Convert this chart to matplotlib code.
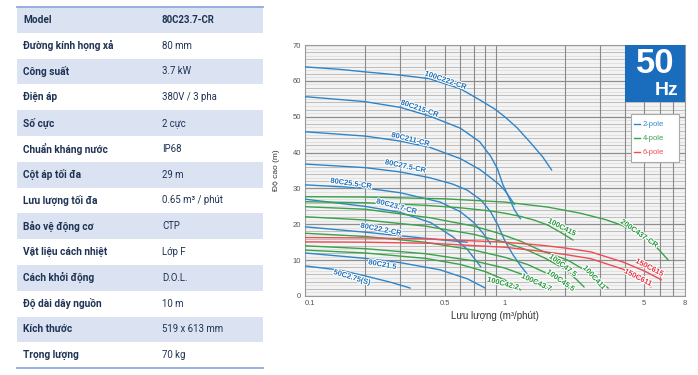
import matplotlib
matplotlib.use('Agg')
import matplotlib.pyplot as plt
import matplotlib.patheffects as pe
from matplotlib.patches import Rectangle
from matplotlib.lines import Line2D
import numpy as np

# ---------------- data ----------------
spec_labels = ["Model", "Đường kính họng xả", "Công suất", "Điện áp", "Số cực",
               "Chuẩn kháng nước", "Cột áp tối đa", "Lưu lượng tối đa", "Bảo vệ động cơ",
               "Vật liệu cách nhiệt", "Cách khởi động", "Độ dài dây nguồn", "Kích thước",
               "Trọng lượng"]
spec_values = ["80C23.7-CR", "80 mm", "3.7 kW", "380V / 3 pha", "2 cực", "IP68", "29 m",
               "0.65 m³ / phút", "CTP", "Lớp F", "D.O.L.", "10 m", "519 x 613 mm", "70 kg"]

# 2-pole (blue) curves: flow (m3/min), head (m)
q_100C222 = [0.1, 0.15, 0.2, 0.3, 0.42, 0.6, 0.76, 0.9, 1.0, 1.15, 1.35, 1.55, 1.72]
h_100C222 = [63.9, 63.2, 62.5, 61.6, 60.6, 57.8, 54.5, 52.0, 50.0, 47.0, 42.7, 38.8, 35.1]
q_80C215 = [0.1, 0.2, 0.3, 0.42, 0.6, 0.75, 0.85, 0.92, 0.98, 1.05, 1.12, 1.2]
h_80C215 = [55.6, 54.2, 52.6, 50.2, 46.8, 43.0, 39.0, 35.5, 31.0, 27.5, 24.0, 21.5]
q_80C211 = [0.1, 0.2, 0.3, 0.42, 0.6, 0.75, 0.85, 0.93, 1.0, 1.06, 1.12]
h_80C211 = [45.8, 44.6, 43.2, 41.5, 38.3, 35.3, 33.0, 31.3, 29.5, 27.5, 25.5]
q_80C275 = [0.1, 0.2, 0.3, 0.42, 0.55, 0.65, 0.76, 0.85, 0.93, 1.0, 1.1, 1.2, 1.33]
h_80C275 = [36.8, 35.8, 34.6, 33.0, 31.2, 29.5, 26.8, 23.5, 19.5, 15.5, 11.5, 8.5, 5.3]
q_80C255 = [0.1, 0.2, 0.3, 0.475, 0.6, 0.7, 0.78, 0.85]
h_80C255 = [31.0, 30.1, 28.8, 26.2, 23.5, 20.5, 17.5, 14.5]
q_80C237 = [0.1, 0.2, 0.3, 0.425, 0.55, 0.65, 0.76]
h_80C237 = [27.0, 25.0, 23.3, 20.5, 16.5, 13.0, 8.1]
q_80C222 = [0.1, 0.2, 0.3, 0.45, 0.65]
h_80C222 = [19.3, 17.8, 16.8, 15.8, 15.0]
q_80C215s = [0.1, 0.2, 0.3, 0.475, 0.65, 0.8]
h_80C215s = [12.0, 10.5, 9.3, 7.3, 4.8, 2.2]
q_50C275 = [0.1, 0.15, 0.2, 0.27, 0.337]
h_50C275 = [8.4, 7.2, 5.6, 3.8, 2.2]

# 4-pole (green) curves
q_200C437 = [0.1, 0.2, 0.5, 1.0, 1.64, 2.39, 3.2, 3.83, 4.5, 5.23, 5.9, 6.6]
h_200C437 = [27.7, 27.6, 27.1, 26.2, 24.8, 23.1, 21.3, 19.8, 17.9, 15.6, 13.0, 10.0]
q_100C415 = [0.1, 0.2, 0.4, 0.6, 0.85, 1.0, 1.2, 1.4, 1.64, 1.9, 2.2]
h_100C415 = [26.3, 26.0, 25.3, 24.6, 23.7, 23.1, 22.2, 21.2, 19.8, 17.8, 15.6]
q_100C411 = [0.1, 0.2, 0.425, 0.7, 0.92, 1.2, 1.5, 2.07, 2.5, 2.9, 3.3]
h_100C411 = [24.9, 24.2, 21.8, 19.5, 17.6, 15.3, 12.8, 10.0, 7.3, 4.8, 2.2]
q_100C475 = [0.1, 0.2, 0.4, 0.7, 1.0, 1.3, 1.6, 2.0, 2.3, 2.5]
h_100C475 = [22.1, 21.2, 19.5, 17.2, 15.0, 12.8, 10.5, 7.5, 4.5, 2.5]
q_100C455 = [0.1, 0.2, 0.4, 0.7, 1.0, 1.3, 1.6, 1.9, 2.2]
h_100C455 = [17.5, 16.6, 15.0, 12.8, 10.8, 8.8, 6.5, 4.3, 2.0]
q_100C437 = [0.1, 0.2, 0.4, 0.7, 1.0, 1.3, 1.7]
h_100C437 = [14.0, 13.2, 11.8, 9.8, 7.8, 5.5, 1.7]
q_100C422 = [0.1, 0.2, 0.4, 0.6, 0.8, 1.0, 1.2]
h_100C422 = [12.8, 12.0, 10.5, 8.8, 6.8, 4.5, 1.7]

# 6-pole (red) curves
q_150C615 = [0.1, 0.2, 0.425, 1.0, 1.5, 2.0, 2.7, 3.9, 5.0, 6.1]
h_150C615 = [16.3, 16.2, 15.9, 15.0, 14.2, 13.4, 12.3, 9.5, 7.0, 4.5]
q_150C611 = [0.1, 0.2, 0.425, 1.0, 1.5, 2.0, 2.7, 3.9, 4.7, 5.4]
h_150C611 = [15.1, 15.0, 14.7, 13.6, 12.5, 11.6, 10.4, 7.5, 5.2, 2.5]

x_ticks = [0.1, 0.5, 1, 5, 8]
x_tick_labels = ["0.1", "0.5", "1", "5", "8"]
y_ticks = [0, 10, 20, 30, 40, 50, 60, 70]
legend_labels = ["2-pole", "4-pole", "6-pole"]

BLUE = '#2f85c8'
GREEN = '#3aa24a'
RED = '#f04a55'
BLUE_T = '#1f6fb8'
GREEN_T = '#22953a'
RED_T = '#e8303c'

curves = [
    (q_100C222, h_100C222, BLUE), (q_80C215, h_80C215, BLUE), (q_80C211, h_80C211, BLUE),
    (q_80C275, h_80C275, BLUE), (q_80C255, h_80C255, BLUE), (q_80C237, h_80C237, BLUE),
    (q_80C222, h_80C222, BLUE), (q_80C215s, h_80C215s, BLUE), (q_50C275, h_50C275, BLUE),
    (q_200C437, h_200C437, GREEN), (q_100C415, h_100C415, GREEN), (q_100C411, h_100C411, GREEN),
    (q_100C475, h_100C475, GREEN), (q_100C455, h_100C455, GREEN), (q_100C437, h_100C437, GREEN),
    (q_100C422, h_100C422, GREEN),
    (q_150C615, h_150C615, RED), (q_150C611, h_150C611, RED),
]

# curve labels: text, (x, y) in data, rotation, color
curve_labels = [
    ("100C222-CR", 0.505, 60.0, -19, BLUE_T),
    ("80C215-CR", 0.374, 52.1, -19, BLUE_T),
    ("80C211-CR", 0.337, 43.5, -14, BLUE_T),
    ("80C27.5-CR", 0.318, 36.0, -12, BLUE_T),
    ("80C25.5-CR", 0.17, 31.2, -8, BLUE_T),
    ("80C23.7-CR", 0.287, 24.8, -15, BLUE_T),
    ("80C22.2-CR", 0.24, 18.4, -11, BLUE_T),
    ("80C21.5", 0.244, 8.6, -10, BLUE_T),
    ("50C2.75(S)", 0.172, 5.0, -17, BLUE_T),
    ("100C415", 1.93, 19.0, -27, GREEN_T),
    ("200C437-CR", 4.7, 17.3, -35, GREEN_T),
    ("100C47.5", 1.95, 8.4, -37, GREEN_T),
    ("100C411", 2.8, 5.0, -47, GREEN_T),
    ("100C45.5", 1.9, 4.2, -35, GREEN_T),
    ("100C43.7", 1.44, 3.6, -25, GREEN_T),
    ("100C42.2", 0.98, 3.3, -15, GREEN_T),
    ("150C615", 5.3, 7.8, -27, RED_T),
    ("150C611", 4.65, 5.0, -27, RED_T),
]

# ---------------- figure ----------------
W, H = 698, 375
fig = plt.figure(figsize=(W / 100, H / 100), dpi=100)

def fx(px):
    return px / W

def fy(py):
    return 1 - py / H

TXT = '#1f3354'
tfont = ['Roboto', 'DejaVu Sans']
tl, tr = 17, 263
row_top, row_h = 7, 25.8
for i, (lab, val) in enumerate(zip(spec_labels, spec_values)):
    y0 = row_top + i * row_h
    if i % 2 == 0:
        fig.patches.append(Rectangle((fx(tl), fy(y0 + row_h)), fx(tr) - fx(tl), row_h / H,
                                     transform=fig.transFigure, facecolor='#dbe3f2',
                                     edgecolor='none', zorder=0))
    yc = y0 + row_h / 2
    fig.text(fx(23), fy(yc), lab, family=tfont, weight='bold', fontsize=7.3,
             color=TXT, va='center', ha='left')
    fig.text(fx(162), fy(yc), val, family=tfont, weight='bold' if i == 0 else 'normal',
             fontsize=6.9, color=TXT, va='center', ha='left')
for yy in (row_top, row_top + row_h * len(spec_labels)):
    fig.add_artist(Line2D([fx(tl), fx(tr)], [fy(yy), fy(yy)], transform=fig.transFigure,
                          color='#8faadc', lw=1.3))

# ---------------- chart ----------------
ax = fig.add_axes([fx(305), fy(296), (685 - 305) / W, (296 - 45) / H])
ax.set_xscale('log')
ax.set_xlim(0.1, 8)
ax.set_ylim(0, 70)
ax.set_facecolor('#f3f3f3')

for yv in range(0, 71):
    if yv % 10 == 0:
        c, lw = '#8e8e8e', 0.9
    elif yv % 2 == 0:
        c, lw = '#b4b4b4', 0.6
    else:
        c, lw = '#dadada', 0.5
    ax.axhline(yv, color=c, lw=lw, zorder=1)
for dec in (0.1, 1):
    for m in range(2, 10):
        xv = dec * m
        if xv < 8:
            ax.axvline(xv, color='#8a8a8a', lw=0.8, zorder=1)

for q, h, c in curves:
    ax.plot(q, h, color=c, lw=1.0, zorder=3, solid_capstyle='round')

for txt, xq, yh, rot, c in curve_labels:
    ax.text(xq, yh, txt, color=c, fontsize=5.4, weight='bold', rotation=rot,
            rotation_mode='anchor', ha='center', va='center', family='Liberation Sans',
            zorder=4, path_effects=[pe.withStroke(linewidth=1.5, foreground='white')])

ax.set_xticks(x_ticks)
ax.set_xticklabels(x_tick_labels)
ax.xaxis.set_minor_locator(matplotlib.ticker.NullLocator())
ax.set_yticks(y_ticks)
ax.tick_params(length=0, labelsize=5.5, colors='#555555', pad=3)
for lbl in ax.get_xticklabels() + ax.get_yticklabels():
    lbl.set_family('Liberation Sans')
ax.get_xticklabels()[0].set_horizontalalignment('left')
for s in ax.spines.values():
    s.set_color('#999999')
    s.set_linewidth(0.8)

ax.set_xlabel("Lưu lượng (m³/phút)", fontsize=7, color='#333333', family='Liberation Sans',
              labelpad=3)
ax.set_ylabel("Độ cao (m)", fontsize=6, color='#333333', family='Liberation Sans', labelpad=9)

# 50 Hz badge
ax.add_patch(Rectangle((0.842, 0.773), 0.158, 0.227, transform=ax.transAxes,
                       facecolor='#1a6dbd', edgecolor='none', zorder=5))
ax.text(0.921, 0.925, "50", transform=ax.transAxes, color='white', fontsize=25,
        weight='bold', ha='center', va='center', family='Liberation Sans', zorder=6)
ax.text(0.982, 0.82, "Hz", transform=ax.transAxes, color='white', fontsize=14,
        weight='bold', ha='right', va='center', family='Liberation Sans', zorder=6)

# legend box
ax.add_patch(Rectangle((0.858, 0.534), 0.126, 0.191, transform=ax.transAxes,
                       facecolor='white', edgecolor='#aaaaaa', lw=0.8, zorder=5))
for k, (lab, c) in enumerate(zip(legend_labels, [BLUE, GREEN, RED])):
    yk = 0.685 - k * 0.056
    ax.plot([0.867, 0.882], [yk, yk], transform=ax.transAxes, color=c, lw=1.0, zorder=6)
    ax.text(0.889, yk, lab, transform=ax.transAxes, color=c, fontsize=5.5, ha='left',
            va='center', family='Liberation Sans', zorder=6)

fig.savefig('out.png', dpi=100)
